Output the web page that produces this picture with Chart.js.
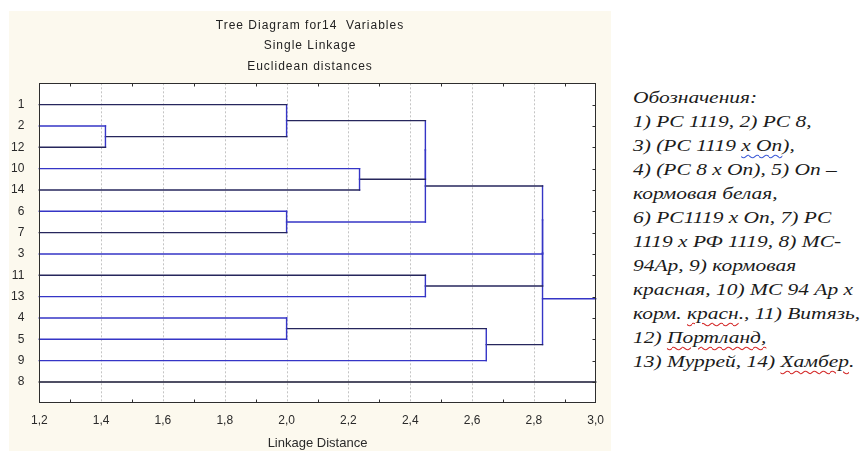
<!DOCTYPE html>
<html><head><meta charset="utf-8">
<script src="https://cdn.jsdelivr.net/npm/chart.js@4"></script>
<style>
html,body{margin:0;padding:0;background:#fff;width:863px;height:451px;overflow:hidden;}
#panel{position:absolute;left:9px;top:11px;width:602px;height:440px;background:#fcf9ee;}
#legend{position:absolute;left:633px;top:86px;font-family:'Liberation Serif','Times New Roman',serif;font-style:italic;font-size:16.5px;line-height:24px;color:#1b1b1b;transform:scaleX(1.3);transform-origin:0 0;white-space:nowrap;}
.sp{text-decoration:underline wavy #d42a2a;text-decoration-thickness:1px;text-underline-offset:3px;}
.gr{text-decoration:underline wavy #3d5bd6;text-decoration-thickness:1px;text-underline-offset:3px;}
</style>
</head><body>
<div id="panel"><canvas id="c"></canvas></div>
<div id="legend">
<div>Обозначения:</div>
<div>1) РС 1119, 2) РС 8,</div>
<div>3) (РС 1119 <span class="gr">х Оп</span>),</div>
<div>4) (РС 8 х Оп), 5) Оп –</div>
<div>кормовая белая,</div>
<div>6) РС1119 х Оп, 7) РС</div>
<div>1119 х РФ 1119, 8) МС-</div>
<div>94Ар, 9) кормовая</div>
<div>красная, 10) МС 94 Ар х</div>
<div>корм. <span class="sp">красн</span>., 11) Витязь,</div>
<div>12) <span class="sp">Портланд,</span></div>
<div>13) Муррей, 14) <span class="sp">Хамбер</span>.</div>
</div>
<script>
// ---- data ----
const titleLines = ['Tree Diagram for14  Variables', 'Single Linkage', 'Euclidean distances'];
const axisTitle = 'Linkage Distance';
const leafLabels = ['1','2','12','10','14','6','7','3','11','13','4','5','9','8'];
// merge k creates node 'n'+k
const mergeLeft   = ['2',  '1',  '6',  '4',  '10',   'n1',   'n5',   '11',   'n3',   'n6',   'n9',   'n10'];
const mergeRight  = ['12', 'n0', '7',  '5',  '14',   'n4',   'n2',   '13',   '9',    '3',    'n7',   'n8'];
const mergeHeight = [1.414, 2.0, 2.0,  2.0,  2.236,  2.449,  2.449,  2.449,  2.646,  2.828,  2.828,  2.828];
const xTickValues = [1.2, 1.4, 1.6, 1.8, 2.0, 2.2, 2.4, 2.6, 2.8, 3.0];
const xTickLabels = ['1,2','1,4','1,6','1,8','2,0','2,2','2,4','2,6','2,8','3,0'];
const xMinorTicks = [1.3, 1.5, 1.7, 1.9, 2.1, 2.3, 2.5, 2.7, 2.9];
const X_MIN = 1.2, X_MAX = 3.0;

// ---- style ----
const BLUE = '#3535c6', NAVY = '#26265c', VERT = '#3535c6';
const darkStems = new Set(['1','12','14','7','11','8','n0','n1','n4','n6','n7','n3','n8']);
const stemColor = n => darkStems.has(n) ? NAVY : BLUE;
const RIGHT_PAD = 15.3;

// ---- build segments from linkage ----
const pos = {};
leafLabels.forEach((l, i) => { pos[l] = { x: X_MIN, y: i + 1 }; });
const segments = [];
const used = new Set();
mergeHeight.forEach((h, k) => {
  const a = mergeLeft[k], b = mergeRight[k];
  [a, b].forEach(c => {
    used.add(c);
    segments.push({ pts: [{ x: pos[c].x, y: pos[c].y }, { x: h, y: pos[c].y }], color: stemColor(c) });
  });
  segments.push({ pts: [{ x: h, y: pos[a].y }, { x: h, y: pos[b].y }], color: VERT });
  pos['n' + k] = { x: h, y: (pos[a].y + pos[b].y) / 2 };
});
Object.keys(pos).forEach(n => {
  if (!used.has(n)) segments.push({ pts: [{ x: pos[n].x, y: pos[n].y }, { x: X_MAX, y: pos[n].y }], color: n === '8' ? '#151530' : BLUE });
});

const datasets = segments.map(s => ({
  data: s.pts, showLine: true, borderColor: s.color, borderWidth: 1.4,
  pointRadius: 0, pointHoverRadius: 0, fill: false, borderCapStyle: 'square', clip: false
}));

const frame = {
  id: 'frame',
  afterLayout(chart) {
    const tb = chart.titleBlock;
    if (tb && !tb._ls) {
      const orig = tb.draw;
      tb.draw = function () {
        const c = this.ctx; c.save(); c.letterSpacing = '1px'; c.translate(RIGHT_PAD / 2, 0);
        orig.apply(this, arguments); c.restore();
      };
      tb._ls = true;
    }
  },
  beforeDatasetsDraw(chart) {
    const { ctx, chartArea: a, scales: { x } } = chart;
    ctx.save();
    ctx.fillStyle = '#ffffff';
    ctx.fillRect(a.left, a.top, a.right - a.left, a.bottom - a.top);
    ctx.strokeStyle = '#c4c4c4'; ctx.lineWidth = 1; ctx.setLineDash([2, 2]);
    xTickValues.forEach(v => {
      if (v <= X_MIN || v >= X_MAX) return;
      const px = Math.round(x.getPixelForValue(v)) + 0.5;
      ctx.beginPath(); ctx.moveTo(px, a.top); ctx.lineTo(px, a.bottom); ctx.stroke();
    });
    ctx.restore();
  },
  afterDatasetsDraw(chart) {
    const { ctx, chartArea: a, scales: { x, y } } = chart;
    ctx.save();
    ctx.strokeStyle = '#2e2e2e'; ctx.lineWidth = 1;
    const L = Math.round(a.left) + 0.5, R = Math.round(a.right) - 0.5, T = Math.round(a.top) + 0.5, B = Math.round(a.bottom) - 0.5;
    ctx.strokeRect(L, T, R - L, B - T);
    ctx.beginPath();
    xMinorTicks.forEach(v => {
      const px = Math.round(x.getPixelForValue(v)) + 0.5;
      ctx.moveTo(px, T); ctx.lineTo(px, T + 3);
      ctx.moveTo(px, B); ctx.lineTo(px, B - 3);
    });
    leafLabels.forEach((l, i) => {
      const py = Math.round(y.getPixelForValue(i + 1)) + 0.5;
      ctx.moveTo(R, py); ctx.lineTo(R - 3, py);
    });
    ctx.stroke();
    ctx.restore();
  }
};

new Chart(document.getElementById('c'), {
  type: 'scatter',
  data: { datasets },
  options: {
    responsive: true, maintainAspectRatio: false, animation: false, devicePixelRatio: 1,
    layout: { padding: { left: 0, right: RIGHT_PAD, top: 0, bottom: 0 } },
    plugins: {
      legend: { display: false }, tooltip: { enabled: false },
      title: {
        display: true, text: titleLines, color: '#222',
        font: { family: "'Liberation Sans', Arial, sans-serif", size: 12, weight: 'normal', lineHeight: '20.5px' },
        padding: { top: 4, bottom: 6.8 }
      }
    },
    scales: {
      x: {
        type: 'linear', position: 'bottom', min: X_MIN, max: X_MAX,
        afterBuildTicks: s => { s.ticks = xTickValues.map(v => ({ value: v })); },
        afterFit: s => { s.height = 47.7; },
        ticks: {
          callback: (v, i) => xTickLabels[i], color: '#2a2a2a', padding: 2, maxRotation: 0, autoSkip: false,
          font: { family: "'Liberation Sans', Arial, sans-serif", size: 12 }
        },
        grid: { display: false }, border: { display: false },
        title: {
          display: true, text: axisTitle, color: '#2a2a2a',
          font: { family: "'Liberation Sans', Arial, sans-serif", size: 13 },
          padding: { top: 0, bottom: 0 }
        }
      },
      y: {
        type: 'linear', min: 0, max: 15, reverse: true,
        afterBuildTicks: s => { s.ticks = leafLabels.map((l, i) => ({ value: i + 1 })); },
        afterFit: s => { s.width = 30.3; },
        ticks: {
          callback: (v, i) => leafLabels[i], color: '#2a2a2a', padding: 7, autoSkip: false,
          font: { family: "'Liberation Sans', Arial, sans-serif", size: 12 }
        },
        grid: { display: false }, border: { display: false }
      }
    }
  },
  plugins: [frame]
});
</script>
</body></html>
